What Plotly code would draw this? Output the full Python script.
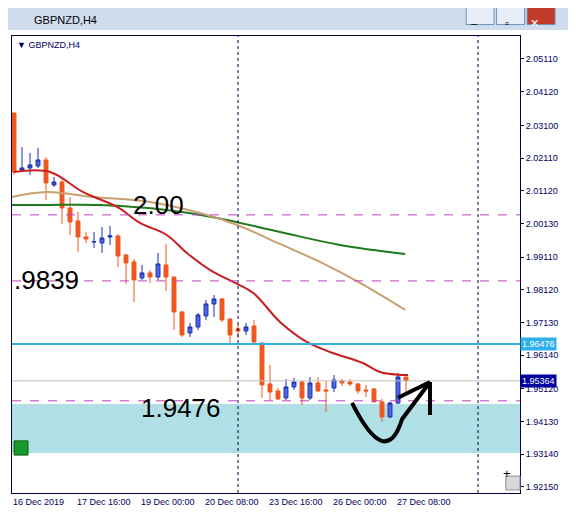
import plotly.graph_objects as go

# -- Daten (GBPNZD H4) ---------------------------------------------------------
opens  = [2.03475, 2.01749, 2.01810, 2.01871, 2.02052, 2.01295, 2.01386, 2.00599, 2.00205, 1.99721,
          1.99569, 1.99539, 1.99721, 1.99751, 1.99176, 1.98964, 1.98479, 1.98631, 1.98509, 1.98873,
          1.98509, 1.97450, 1.96814, 1.96995, 1.97329, 1.97692, 1.97843, 1.97238, 1.96935, 1.96874,
          1.97026, 1.96511, 1.95269, 1.95058, 1.94846, 1.95179, 1.95330, 1.94846, 1.95300, 1.95088,
          1.95148, 1.95360, 1.95330, 1.95269, 1.95088, 1.95118, 1.94724, 1.94270, 1.94694, 1.95481]
closes = [2.01689, 2.01810, 2.01901, 2.02052, 2.01356, 2.01386, 2.00599, 2.00175, 1.99721, 1.99660,
          1.99580, 1.99690, 1.99751, 1.99145, 1.98933, 1.98419, 1.98631, 1.98509, 1.98903, 1.98509,
          1.97450, 1.96753, 1.96995, 1.97359, 1.97692, 1.97843, 1.97207, 1.96753, 1.96874, 1.96995,
          1.96541, 1.95239, 1.95027, 1.94815, 1.95179, 1.95330, 1.94846, 1.95300, 1.95058, 1.95058,
          1.95391, 1.95300, 1.95269, 1.95058, 1.95058, 1.94724, 1.94270, 1.94694, 1.95481, 1.95364]
highs  = [2.03475, 2.02446, 2.02264, 2.02416, 2.02143, 2.01537, 2.01447, 2.00932, 2.00478, 1.99872,
          1.99872, 2.00023, 2.00054, 1.99811, 1.99206, 1.99054, 1.98873, 1.98721, 1.99236, 1.99509,
          1.98509, 1.97480, 1.97117, 1.97419, 1.97813, 1.97964, 1.97874, 1.97238, 1.97086, 1.97117,
          1.97207, 1.96511, 1.95845, 1.95148, 1.95421, 1.95451, 1.95360, 1.95481, 1.95481, 1.95360,
          1.95542, 1.95421, 1.95421, 1.95300, 1.95239, 1.95148, 1.94815, 1.94724, 1.95603, 1.95481]
lows   = [2.01598, 2.01689, 2.01598, 2.01810, 2.00841, 2.01235, 2.00114, 1.99781, 1.99266, 1.99539,
          1.99388, 1.99236, 1.99478, 1.98812, 1.98297, 1.97752, 1.98419, 1.98328, 1.98419, 1.98086,
          1.96905, 1.96693, 1.96693, 1.96905, 1.97207, 1.97298, 1.97147, 1.96511, 1.96662, 1.96753,
          1.96450, 1.94846, 1.94785, 1.94785, 1.94785, 1.95088, 1.94634, 1.94785, 1.95027, 1.94422,
          1.95027, 1.95209, 1.95209, 1.94967, 1.94876, 1.94724, 1.94119, 1.94240, 1.94664, 1.95027]

ma_fast_x = [0, 4.5, 8.6, 12.9, 15.75, 19.1, 21.6, 24.9, 27.4, 29.9, 33.25, 36.6, 39.5, 43.6, 45.75, 48.6, 49.25]
ma_fast_y = [2.01689, 2.01689, 2.01083, 2.00629, 2.00145, 1.99781, 1.99236, 1.98661, 1.98358, 1.98025,
             1.97147, 1.96541, 1.96238, 1.95905, 1.95633, 1.95542, 1.95542]
ma_mid_x = [-0.25, 4.1, 9.9, 17, 23.25, 27.9, 33.25, 38.25, 43.25, 48.9]
ma_mid_y = [2.00932, 2.01083, 2.00932, 2.00780, 2.00447, 2.00084, 1.99509, 1.98964, 1.98328, 1.97510]
ma_slow_x = [-0.25, 4.1, 10.75, 19.1, 25.4, 33.25, 40.75, 48.9]
ma_slow_y = [2.00690, 2.00690, 2.00690, 2.00538, 2.00296, 1.99872, 1.99478, 1.99206]

levels = [2.0039, 1.9839, 1.9476]
level_labels = ["2.00", ".9839", "1.9476"]
level_label_pos = [(18, 2.00690), (4, 1.98419), (20.9, 1.94543)]
cyan_level = 1.96476
bid = 1.95364
zone = (1.93180, 1.94664)
vlines = [28, 58]

date_idx = [0, 8, 16, 24, 32, 40, 48]
date_labels = ["16 Dec 2019", "17 Dec 16:00", "19 Dec 00:00", "20 Dec 08:00",
               "23 Dec 16:00", "26 Dec 00:00", "27 Dec 08:00"]
y_ticks = [2.05110, 2.04120, 2.03100, 2.02110, 2.01120, 2.00130, 1.99110, 1.98120,
           1.97130, 1.96140, 1.95120, 1.94130, 1.93140, 1.92150]

FONT = "Liberation Sans"
idx = list(range(len(opens)))

# -- Plot ----------------------------------------------------------------------
fig = go.Figure()

fig.add_shape(type="rect", xref="paper", x0=0, x1=1, y0=zone[0], y1=zone[1],
              fillcolor="#b0dfe6", line_width=0, layer="below")

fig.add_trace(go.Candlestick(
    x=idx, open=opens, high=highs, low=lows, close=closes,
    increasing=dict(line=dict(color="#1b2fa8", width=1), fillcolor="#4d64ee"),
    decreasing=dict(line=dict(color="#f0561e", width=1), fillcolor="#f0561e"),
    whiskerwidth=0, showlegend=False, hoverinfo="skip"))

fig.add_trace(go.Scatter(x=ma_slow_x, y=ma_slow_y, mode="lines", line=dict(color="#1e7a1e", width=2),
                         line_shape="spline", showlegend=False))
fig.add_trace(go.Scatter(x=ma_mid_x, y=ma_mid_y, mode="lines", line=dict(color="#c8a070", width=2),
                         line_shape="spline", showlegend=False))
fig.add_trace(go.Scatter(x=ma_fast_x, y=ma_fast_y, mode="lines", line=dict(color="#c81e1e", width=2),
                         line_shape="spline", showlegend=False))

for lv in levels:
    fig.add_hline(y=lv, line=dict(color="#c040c0", width=1, dash="dash"))
fig.add_hline(y=cyan_level, line=dict(color="#2eb0e8", width=2))
fig.add_hline(y=bid, line=dict(color="#c0c0c0", width=1))
for v in vlines:
    fig.add_vline(x=v, line=dict(color="#000040", width=1, dash="dot"))

for txt, (lx, ly) in zip(level_labels, level_label_pos):
    fig.add_annotation(x=lx, y=ly, text=txt, showarrow=False,
                       font=dict(family=FONT, size=26, color="black"))

# Handgezeichneter Pfeil
fig.add_shape(type="path", xref="x", yref="y",
              path="M 42.25 1.94694 Q 46.5 1.9265 48.5 1.9420 L 52 1.9533 M 52 1.9533 L 52 1.9433 "
                   "M 52 1.9533 L 48 1.9485",
              line=dict(color="black", width=4))

# Preisboxen rechts
fig.add_annotation(xref="paper", x=1.0, y=cyan_level, xanchor="left", text="1.96476", showarrow=False,
                   bgcolor="#2eb0e8", font=dict(family=FONT, size=9, color="white"), borderpad=1)
fig.add_annotation(xref="paper", x=1.0, y=bid, xanchor="left", text="1.95364", showarrow=False,
                   bgcolor="#0000a0", font=dict(family=FONT, size=9, color="white"), borderpad=1)

# Datumsbeschriftung
for i, lab in zip(date_idx, date_labels):
    fig.add_annotation(x=i, yref="paper", y=0, yanchor="top", xanchor="left", xshift=-3, yshift=-2,
                       text=lab, showarrow=False, font=dict(family=FONT, size=9, color="#000060"))

fig.add_annotation(xref="paper", yref="paper", x=0.005, y=0.995, xanchor="left", yanchor="top",
                   text="▼ GBPNZD,H4", showarrow=False, font=dict(family=FONT, size=9, color="#000060"))

# Fensterrahmen / Titelleiste
fig.add_shape(type="rect", xref="paper", yref="paper", x0=-0.03, x1=1.12, y0=1.013, y1=1.09,
              fillcolor="#cfdcee", line_width=0, layer="below")
fig.add_annotation(xref="paper", yref="paper", x=0.04, y=1.052, xanchor="left", text="GBPNZD,H4",
                   showarrow=False, font=dict(family=FONT, size=11, color="black"))
for k, sym in enumerate(["–", "▫", "✕"]):
    x0 = 0.894 + k * 0.06
    fig.add_shape(type="rect", xref="paper", yref="paper", x0=x0, x1=x0 + 0.055, y0=1.025, y1=1.068,
                  fillcolor="#c23b2a" if k == 2 else "#e8eef8", line=dict(color="#7090b0", width=1))
    fig.add_annotation(xref="paper", yref="paper", x=x0 + 0.0275, y=1.046, text=sym, showarrow=False,
                       font=dict(family=FONT, size=11, color="white" if k == 2 else "black"))
fig.add_shape(type="rect", xref="paper", yref="paper", x0=0.004, x1=0.0315, y0=0.083, y1=0.114,
              fillcolor="#1a9a2a", line=dict(color="#0c5c12", width=1))
fig.add_shape(type="rect", xref="paper", yref="paper", x0=0.972, x1=1.0, y0=0.0066, y1=0.037,
              fillcolor="#d8d8d8", line=dict(color="#909090", width=1))
fig.add_annotation(xref="paper", yref="paper", x=0.986, y=0.022, text="+", showarrow=False,
                   font=dict(family=FONT, size=13, color="black"))

# Seite hat 8px Body-Rand -> Ränder entsprechend verschoben
fig.update_layout(
    width=576, height=521,
    margin=dict(l=4, r=64, t=28, b=36, autoexpand=False),
    paper_bgcolor="white", plot_bgcolor="white",
    xaxis=dict(range=[-0.25, 63.25], showticklabels=False, showgrid=False, zeroline=False,
               rangeslider=dict(visible=False), showline=True, mirror=True, linecolor="#000040",
               linewidth=1),
    yaxis=dict(range=[1.91968, 2.05806], side="right", tickvals=y_ticks,
               ticktext=[f"{t:.5f}" for t in y_ticks], ticks="outside", ticklen=3,
               tickcolor="#000040", showgrid=False, zeroline=False, showline=True, mirror=True,
               linecolor="#000040", linewidth=1,
               tickfont=dict(family=FONT, size=9, color="#000060")),
)

fig.write_html("out.html")
